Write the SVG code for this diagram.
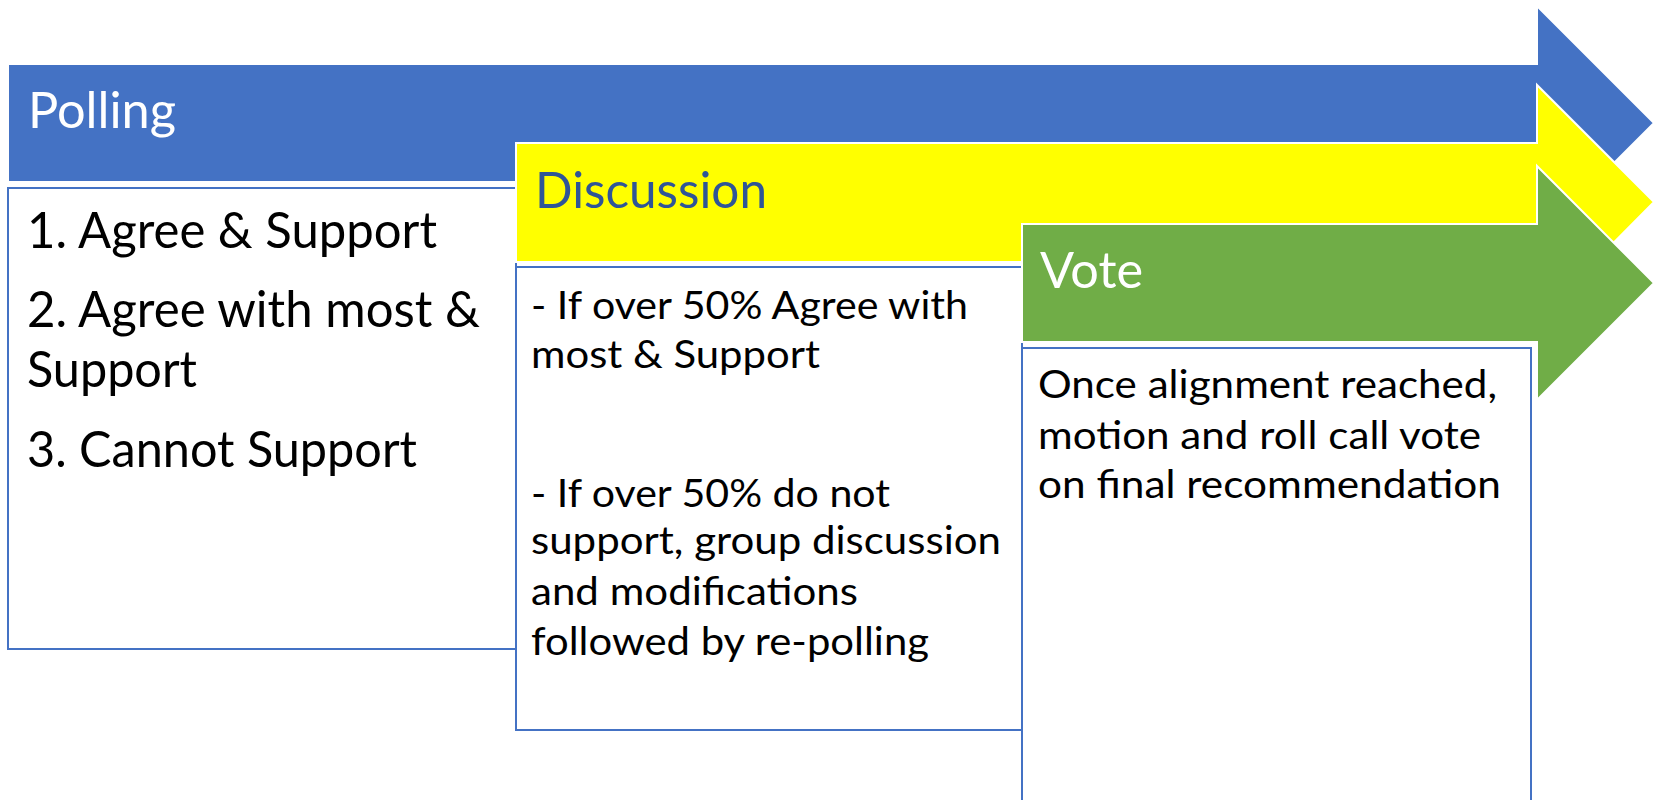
<svg xmlns="http://www.w3.org/2000/svg" width="1655" height="800" viewBox="0 0 1655 800">
  <style>
    .arrow { stroke: #ffffff; stroke-width: 2; }
    .box { fill: #ffffff; stroke: #4472C4; stroke-width: 2; }
    text { font-family: Lato, "Open Sans", "Liberation Sans", sans-serif; }
    .hdr { font-size: 51px; }
    .big { font-size: 50px; fill: #000000; }
    .body { font-size: 39px; fill: #000000; }
  </style>
  <rect width="1655" height="800" fill="#ffffff"/>
  <g id="polling">
    <path class="arrow" fill="#4472C4" d="M8,64 H1537 V6 L1654,123 L1537,240 V182 H8 Z"/>
    <text class="hdr" x="28" y="128" fill="#ffffff" textLength="148" lengthAdjust="spacingAndGlyphs">Polling</text>
    <rect class="box" x="8" y="188" width="508" height="461"/>
    <text class="big" x="27" y="248" textLength="410" lengthAdjust="spacingAndGlyphs">1. Agree &amp; Support</text>
    <text class="big" x="27" y="327" textLength="453" lengthAdjust="spacingAndGlyphs">2. Agree with most &amp;</text>
    <text class="big" x="27" y="387" textLength="170" lengthAdjust="spacingAndGlyphs">Support</text>
    <text class="big" x="27" y="467" textLength="390" lengthAdjust="spacingAndGlyphs">3. Cannot Support</text>
  </g>
  <g id="discussion">
    <path class="arrow" fill="#FFFF00" d="M516,143 H1537 V85 L1654,202 L1537,320 V262 H516 Z"/>
    <text class="hdr" x="535" y="208" fill="#2F5597" textLength="232" lengthAdjust="spacingAndGlyphs">Discussion</text>
    <rect class="box" x="516" y="267" width="506" height="463"/>
    <text class="body" x="531" y="319" textLength="437" lengthAdjust="spacingAndGlyphs">- If over 50% Agree with</text>
    <text class="body" x="531" y="368" textLength="289" lengthAdjust="spacingAndGlyphs">most &amp; Support</text>
    <text class="body" x="531" y="507" textLength="359" lengthAdjust="spacingAndGlyphs">- If over 50% do not</text>
    <text class="body" x="531" y="554" textLength="470" lengthAdjust="spacingAndGlyphs">support, group discussion</text>
    <text class="body" x="531" y="605" textLength="327" lengthAdjust="spacingAndGlyphs">and modifications</text>
    <text class="body" x="531" y="655" textLength="398" lengthAdjust="spacingAndGlyphs">followed by re-polling</text>
  </g>
  <g id="vote">
    <path class="arrow" fill="#70AD47" d="M1022,224 H1537 V166 L1654,283 L1537,400 V342 H1022 Z"/>
    <text class="hdr" x="1040" y="288" fill="#ffffff" textLength="103" lengthAdjust="spacingAndGlyphs">Vote</text>
    <rect class="box" x="1022" y="348" width="509" height="470"/>
    <text class="body" x="1038" y="398" textLength="459" lengthAdjust="spacingAndGlyphs">Once alignment reached,</text>
    <text class="body" x="1038" y="449" textLength="443" lengthAdjust="spacingAndGlyphs">motion and roll call vote</text>
    <text class="body" x="1038" y="498" textLength="463" lengthAdjust="spacingAndGlyphs">on final recommendation</text>
  </g>
  <g id="connectors"/>
</svg>
